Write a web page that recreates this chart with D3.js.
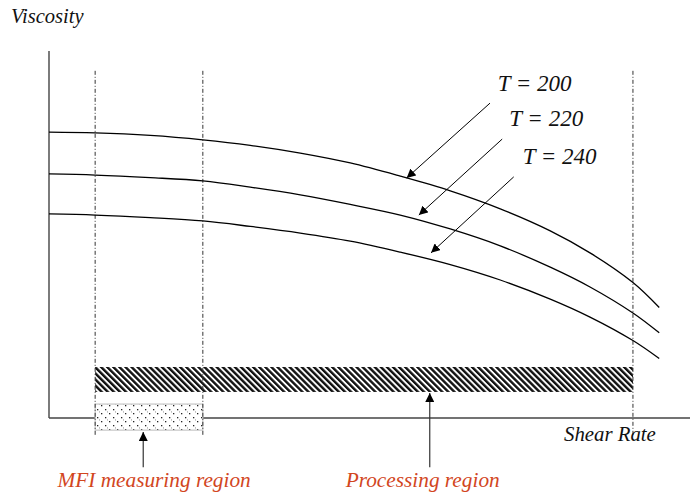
<!DOCTYPE html>
<html><head><meta charset="utf-8">
<script src="https://cdn.jsdelivr.net/npm/d3@7"></script>
<style>html,body{margin:0;padding:0;background:#fff;}svg{display:block;}
text{font-family:"Liberation Serif","Tinos","Times New Roman","DejaVu Serif",serif;font-style:italic;}</style>
</head><body>
<svg id="chart" width="690" height="493"></svg>
<script>
// ---- data (arbitrary units) ----
const shearRate = [0, 0.72, 1.58, 2.4, 3.14, 3.92, 4.7, 5.48, 6.26, 7.04, 7.82, 8.44, 9.11, 9.52];
const seriesNames = ["T = 200", "T = 220", "T = 240"];
const viscT200 = [7.79, 7.77, 7.70, 7.58, 7.43, 7.22, 6.95, 6.59, 6.19, 5.70, 5.10, 4.50, 3.69, 3.01];
const viscT220 = [6.65, 6.62, 6.55, 6.46, 6.29, 6.08, 5.82, 5.53, 5.15, 4.69, 4.11, 3.57, 2.86, 2.32];
const viscT240 = [5.56, 5.53, 5.46, 5.37, 5.22, 5.04, 4.82, 4.52, 4.18, 3.76, 3.24, 2.75, 2.11, 1.62];
const mfiRegion = [0.72, 2.4];
const processingRegion = [0.72, 9.11];
const regionLabels = ["MFI measuring region", "Processing region"];
const axisLabels = ["Viscosity", "Shear Rate"];
// label anchors / arrow tails & tips in data units
const labelPos = [[7.0, 8.91], [7.18, 7.96], [7.39, 6.92]];
const arrowTail = [[6.88, 8.58], [7.07, 7.60], [7.25, 6.57]];
const arrowTip = [[5.58, 6.54], [5.77, 5.53], [5.96, 4.50]];

const svg = d3.select("#chart");
const x = d3.scaleLinear().domain([0, 10]).range([49, 690]);
const y = d3.scaleLinear().domain([0, 10]).range([418, 51]);

const defs = svg.append("defs");
defs.append("marker").attr("id", "ah").attr("viewBox", "0 0 10 10")
  .attr("refX", 10).attr("refY", 5).attr("markerWidth", 9).attr("markerHeight", 9)
  .attr("markerUnits", "userSpaceOnUse").attr("orient", "auto")
  .append("path").attr("d", "M0,0 L10,5 L0,10 Z").attr("fill", "#000");
const hp = defs.append("pattern").attr("id", "hatch").attr("patternUnits", "userSpaceOnUse")
  .attr("width", 4.3).attr("height", 4.3).attr("patternTransform", "rotate(-45)");
hp.append("rect").attr("width", 4.3).attr("height", 4.3).attr("fill", "#fff");
hp.append("rect").attr("width", 2.4).attr("height", 4.3).attr("fill", "#111");
const dp = defs.append("pattern").attr("id", "dots").attr("patternUnits", "userSpaceOnUse")
  .attr("width", 8).attr("height", 8);
dp.append("rect").attr("width", 8).attr("height", 8).attr("fill", "#fff");
dp.append("rect").attr("x", 1).attr("y", 1).attr("width", 1.3).attr("height", 1.3).attr("fill", "#222");
dp.append("rect").attr("x", 5).attr("y", 5).attr("width", 1.3).attr("height", 1.3).attr("fill", "#222");
dp.append("rect").attr("x", 3).attr("y", 3.5).attr("width", 0.9).attr("height", 0.9).attr("fill", "#777");

svg.append("line").attr("x1", x(0)).attr("x2", x(0)).attr("y1", y(10)).attr("y2", y(0))
  .attr("stroke", "#444").attr("stroke-width", 1.4);
svg.append("line").attr("x1", x(0)).attr("x2", x(10)).attr("y1", y(0)).attr("y2", y(0))
  .attr("stroke", "#444").attr("stroke-width", 1.4);

svg.append("rect").attr("x", x(processingRegion[0])).attr("y", y(1.39))
  .attr("width", x(processingRegion[1]) - x(processingRegion[0])).attr("height", y(0.71) - y(1.39))
  .attr("fill", "url(#hatch)");
svg.append("rect").attr("x", x(mfiRegion[0])).attr("y", y(0.38))
  .attr("width", x(mfiRegion[1]) - x(mfiRegion[0])).attr("height", y(-0.33) - y(0.38))
  .attr("fill", "url(#dots)").attr("stroke", "#bbb").attr("stroke-width", 1);

[mfiRegion[0], mfiRegion[1], processingRegion[1]].forEach(v => {
  svg.append("line").attr("x1", x(v)).attr("x2", x(v)).attr("y1", y(9.46)).attr("y2", y(-0.46))
    .attr("stroke", "#333").attr("stroke-width", 1).attr("stroke-dasharray", "4,2,1,2");
});

const line = d3.line().x((d, i) => x(shearRate[i])).y(d => y(d)).curve(d3.curveCatmullRom);
[viscT200, viscT220, viscT240].forEach(s => {
  svg.append("path").attr("d", line(s)).attr("fill", "none").attr("stroke", "#000").attr("stroke-width", 1.3);
});

seriesNames.forEach((n, i) => {
  svg.append("text").attr("x", x(labelPos[i][0])).attr("y", y(labelPos[i][1]))
    .attr("font-size", 23).attr("fill", "#111").text(n);
  svg.append("line").attr("x1", x(arrowTail[i][0])).attr("y1", y(arrowTail[i][1]))
    .attr("x2", x(arrowTip[i][0])).attr("y2", y(arrowTip[i][1]))
    .attr("stroke", "#000").attr("stroke-width", 1).attr("marker-end", "url(#ah)");
});

const regArrowX = [1.47, 5.94];
const regArrowTipY = [-0.38, 0.68];
const regLabelX = [1.64, 5.83];
regionLabels.forEach((t, i) => {
  svg.append("line").attr("x1", x(regArrowX[i])).attr("x2", x(regArrowX[i]))
    .attr("y1", y(-1.34)).attr("y2", y(regArrowTipY[i]))
    .attr("stroke", "#333").attr("stroke-width", 1.2).attr("marker-end", "url(#ah)");
  svg.append("text").attr("x", x(regLabelX[i])).attr("y", 487).attr("text-anchor", "middle")
    .attr("font-size", 21.3).attr("fill", "#d2461e").text(t);
});

svg.append("text").attr("x", 11).attr("y", 23).attr("font-size", 20.5).attr("fill", "#111").text(axisLabels[0]);
svg.append("text").attr("x", 564).attr("y", 441).attr("font-size", 20.8).attr("fill", "#111").text(axisLabels[1]);
</script>
</body></html>
